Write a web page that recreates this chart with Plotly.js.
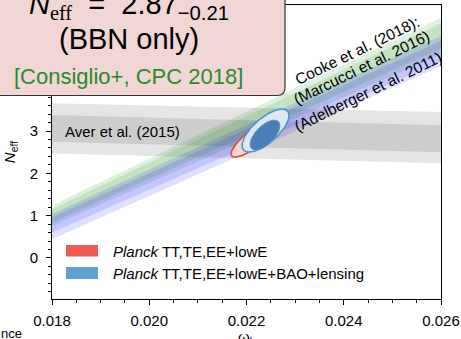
<!DOCTYPE html>
<html>
<head>
<meta charset="utf-8">
<script src="https://cdn.plot.ly/plotly-3.0.1.min.js"></script>
<style>html,body{margin:0;padding:0;background:#fff;}#chart{width:461px;height:339px;}</style>
</head>
<body>
<div id="chart"></div>
<script>
// ---- data ----
const omegaEnds = [0.018, 0.026];           // omega_b at the left / right edge of the bands

// Aver et al. (2015) helium band: [left, right]
const averOuterLow  = [2.47, 2.24];
const averOuterHigh = [3.66, 3.45];
const averInnerLow  = [2.75, 2.50];
const averInnerHigh = [3.38, 3.14];

// Cooke et al. (2018) D/H with Marcucci et al. 2016 rate (green)
const marcOuterLow  = [0.76, 4.82];
const marcOuterHigh = [1.24, 5.68];
const marcInnerLow  = [0.84, 4.95];
const marcInnerHigh = [1.16, 5.55];

// Cooke et al. (2018) D/H with Adelberger et al. 2011 rate (blue)
const adelOuterLow  = [0.44, 4.53];
const adelOuterHigh = [1.04, 5.25];
const adelInnerLow  = [0.60, 4.65];
const adelInnerHigh = [0.96, 5.13];

// Planck contours: [omega_b centre, Neff centre, omega_b half-extent, Neff half-extent, correlation]
const planckTTTEEE_95 = [0.022267, 2.917, 0.000586, 0.532, 0.86];
const planckTTTEEE_68 = [0.022319, 2.929, 0.000319, 0.295, 0.86];
const planckBAO_95    = [0.022391, 3.012, 0.000483, 0.508, 0.70];
const planckBAO_68    = [0.022380, 2.905, 0.000308, 0.354, 0.62];

const legendLabels = ['<i>Planck</i> TT,TE,EE+lowE', '<i>Planck</i> TT,TE,EE+lowE+BAO+lensing'];
const bandLabels = ['Aver et al. (2015)', 'Cooke et al. (2018):', '(Marcucci et al. 2016)', '(Adelberger et al. 2011)'];

// ---- helpers ----
function band(low, high, color) {
  return {
    type: 'scatter', mode: 'lines',
    x: [omegaEnds[0], omegaEnds[1], omegaEnds[1], omegaEnds[0]],
    y: [low[0], low[1], high[1], high[0]],
    fill: 'toself', fillcolor: color, line: {width: 0},
    hoverinfo: 'skip', showlegend: false
  };
}
function ellipse(p, fill, lineColor, lineWidth) {
  const [cx, cy, hx, hy, rho] = p;
  const xs = [], ys = [];
  const n = 160;
  for (let i = 0; i <= n; i++) {
    const t = 2 * Math.PI * i / n;
    xs.push(cx + hx * Math.cos(t));
    ys.push(cy + hy * (rho * Math.cos(t) + Math.sqrt(1 - rho * rho) * Math.sin(t)));
  }
  return {
    type: 'scatter', mode: 'lines', x: xs, y: ys,
    fill: 'toself', fillcolor: fill,
    line: {color: lineColor, width: lineWidth},
    hoverinfo: 'skip', showlegend: false
  };
}

const gray = 'rgba(0,0,0,0.10)';
const green = 'rgba(0,128,0,0.12)';
const blue = 'rgba(0,0,255,0.12)';

const traces = [
  band(averOuterLow, averOuterHigh, gray),
  band(averInnerLow, averInnerHigh, gray),
  band(marcOuterLow, marcOuterHigh, green),
  band(marcInnerLow, marcInnerHigh, green),
  band(adelOuterLow, adelOuterHigh, blue),
  band(adelInnerLow, adelInnerHigh, blue),
  ellipse(planckTTTEEE_95, '#f6d6d5', '#e8443a', 1.5),
  ellipse(planckTTTEEE_68, '#ee5a52', '#ee5a52', 0.5),
  ellipse(planckBAO_95, '#dde6f1', '#4b92cf', 1.5),
  ellipse(planckBAO_68, '#497fb9', '#5a94ca', 1)
];

// paper-coordinate helpers for the decorative box (pixel -> paper)
const L = 52, R = 20, T = 5, B = 40, W = 461, H = 339;
const pw = W - L - R, ph = H - T - B;
const px = v => (v - L) / pw;
const py = v => (H - B - v) / ph;

const rx = 8 / pw, ry = 8 / ph;
const bx0 = px(-6), bx1 = px(285), by0 = py(95.5), by1 = py(-6);
const boxPath = `M${bx0},${by1} L${bx1},${by1} L${bx1},${by0 + ry} Q${bx1},${by0} ${bx1 - rx},${by0} L${bx0},${by0} Z`;

const font = 'Liberation Sans, Arial, sans-serif';

const layout = {
  width: W, height: H,
  margin: {l: L, r: R, t: T, b: B, pad: 0},
  paper_bgcolor: '#fff', plot_bgcolor: '#fff',
  font: {family: font, size: 15, color: '#000'},
  showlegend: false,
  xaxis: {
    range: [0.018, 0.026], dtick: 0.002, tick0: 0.018, tickformat: '.3f',
    ticks: 'outside', ticklen: 5, tickwidth: 1, tickcolor: '#000',
    minor: {dtick: 0.0005, ticklen: 3, tickwidth: 1, tickcolor: '#000', ticks: 'outside'},
    showline: true, linecolor: '#000', linewidth: 1, mirror: true,
    showgrid: false, zeroline: false, ticklabelstandoff: 3
  },
  yaxis: {
    range: [-0.97, 5.98], dtick: 1, tick0: 0,
    ticks: 'outside', ticklen: 5, tickwidth: 1, tickcolor: '#000',
    minor: {dtick: 0.2, ticklen: 3, tickwidth: 1, tickcolor: '#000', ticks: 'outside'},
    showline: true, linecolor: '#000', linewidth: 1, mirror: true,
    showgrid: false, zeroline: false, ticklabelstandoff: 5,
    title: {text: '<i>N</i><sub>eff</sub>', font: {size: 15}, standoff: 10}
  },
  shapes: [
    {type: 'path', xref: 'paper', yref: 'paper', path: boxPath,
     fillcolor: '#f2d5d5', line: {color: '#333', width: 1.2}, layer: 'above'},
    {type: 'rect', xref: 'paper', yref: 'paper', x0: px(66), x1: px(98), y0: py(256.5), y1: py(245),
     fillcolor: '#ee5b55', line: {width: 0}, layer: 'above'},
    {type: 'rect', xref: 'paper', yref: 'paper', x0: px(66), x1: px(98), y0: py(279), y1: py(267),
     fillcolor: '#5fa0d1', line: {width: 0}, layer: 'above'}
  ],
  annotations: [
    {xref: 'paper', yref: 'paper', x: px(129), y: py(26), xanchor: 'center', yanchor: 'bottom', showarrow: false,
     font: {size: 29}, text: '<i>N</i><sub><span style="font-family:Liberation Serif,serif">eff</span></sub>  =  2.87<sub>−0.21</sub>'},
    {xref: 'paper', yref: 'paper', x: px(129), y: py(39), xanchor: 'center', yanchor: 'middle', showarrow: false,
     font: {size: 29}, text: '(BBN only)'},
    {xref: 'paper', yref: 'paper', x: px(128.5), y: py(76), xanchor: 'center', yanchor: 'middle', showarrow: false,
     font: {size: 22, color: '#2b8a2b'}, text: '[Consiglio+, CPC 2018]'},
    {xref: 'x', yref: 'y', x: 0.018226, y: 3.0, xanchor: 'left', yanchor: 'middle', showarrow: false,
     font: {size: 15}, text: bandLabels[0]},
    {xref: 'x', yref: 'y', x: 0.024273, y: 4.914, textangle: -26, showarrow: false,
     font: {size: 15.5}, text: bandLabels[1]},
    {xref: 'x', yref: 'y', x: 0.024365, y: 4.50, textangle: -26, showarrow: false,
     font: {size: 15.5}, text: bandLabels[2]},
    {xref: 'x', yref: 'y', x: 0.0245, y: 3.945, textangle: -26, showarrow: false,
     font: {size: 15.5}, text: bandLabels[3]},
    {xref: 'paper', yref: 'paper', x: px(111), y: py(251), xanchor: 'left', yanchor: 'middle', showarrow: false,
     font: {size: 15}, text: legendLabels[0]},
    {xref: 'paper', yref: 'paper', x: px(111), y: py(273), xanchor: 'left', yanchor: 'middle', showarrow: false,
     font: {size: 15}, text: legendLabels[1]},
    {xref: 'paper', yref: 'paper', x: px(-1), y: py(333), xanchor: 'left', yanchor: 'middle', showarrow: false,
     font: {size: 13}, text: 'nce'},
    // x-axis title: sits below the visible area in the reference, so it is partly cut off
    {xref: 'paper', yref: 'paper', x: 0.5, y: py(326), xanchor: 'center', yanchor: 'top', showarrow: false,
     font: {size: 15}, text: 'ω<sub>b</sub>'}
  ]
};

Plotly.newPlot('chart', traces, layout, {displayModeBar: false, staticPlot: true});
</script>
</body>
</html>
